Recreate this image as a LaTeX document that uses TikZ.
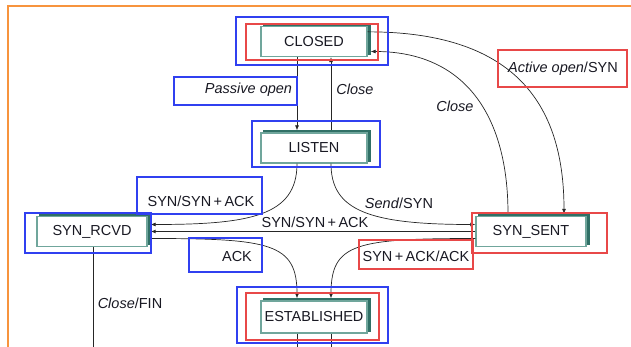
\documentclass[tikz,border=0pt]{standalone}
\usepackage{xcolor}
\usepackage{tikz}
\usepackage{fontspec}
\setmainfont{Liberation Sans}
\usetikzlibrary{shadows,arrows.meta}

\definecolor{framebd}{RGB}{247,148,62}
\definecolor{annblue}{RGB}{48,64,240}
\definecolor{annred}{RGB}{232,72,72}
\definecolor{statebd}{RGB}{112,166,156}
\definecolor{stateshd}{RGB}{48,112,102}
\definecolor{ink}{RGB}{25,25,35}

\begin{document}
\begin{tikzpicture}[x=1pt, y=-1pt,
  every node/.style={font=\fontsize{14.5}{17}\selectfont, text=ink, inner sep=0pt},
  state/.style={draw=statebd, line width=1.3pt, fill=white, minimum width=106pt, minimum height=30pt,
    copy shadow={shadow xshift=3pt, shadow yshift=2pt, draw=stateshd, fill=stateshd}},
  bluebox/.style={draw=annblue, line width=1.3pt},
  redbox/.style={draw=annred, line width=1.3pt},
  trans/.style={draw=black!85, line width=0.7pt, -{Latex[length=5pt,width=4pt]}},
  plain/.style={draw=black!85, line width=0.7pt}
]
\useasboundingbox (0,0) rectangle (631,347);
\draw[framebd, line width=1.5pt] (8,347) -- (8,6) -- (631,6);

% states
\node[state] (closed) at (314,41.5) {CLOSED};
\node[state] (listen) at (314,148) {LISTEN};
\node[state, minimum width=110pt] (synrcvd) at (92,231.5) {SYN\_RCVD};
\node[state, minimum width=110pt] (synsent) at (531,231.5) {SYN\_SENT};
\node[state, minimum height=32pt] (estab) at (314,317) {ESTABLISHED};

% transitions
\draw[trans] ([xshift=-17pt]closed.south) -- ([xshift=-17pt,yshift=2pt]listen.north);
\draw[trans] ([xshift=17pt,yshift=2pt]listen.north) -- ([xshift=17pt]closed.south);
\draw[trans] ([yshift=-6pt]closed.north east) .. controls +(143,0) and +(0,-114) .. ([xshift=33pt,yshift=2pt]synsent.north);
\draw[trans] ([xshift=-23pt,yshift=2pt]synsent.north) .. controls +(0,-100) and +(93,0) .. ([xshift=3pt,yshift=-10pt]closed.east);
\draw[trans] ([xshift=-17pt]listen.south) .. controls +(0,52) and +(100,0) .. ([xshift=3pt,yshift=7pt]synrcvd.east);
\draw[trans] ([xshift=17pt]listen.south) .. controls +(0,47) and +(-106,0) .. ([yshift=7pt]synsent.west);
\draw[trans, line width=1pt] (synsent.west) -- ([xshift=3pt]synrcvd.east);
\draw[trans] ([xshift=3pt,yshift=-7pt]synrcvd.east) .. controls +(120,0) and +(0,-55) .. ([xshift=-17pt,yshift=2pt]estab.north);
\draw[trans] ([yshift=-7pt]synsent.west) .. controls +(-120,0) and +(0,-55) .. ([xshift=17pt,yshift=2pt]estab.north);
\coordinate (finend) at (93,347);
\coordinate (estout1) at (297,347);
\coordinate (estout2) at (331,347);
\draw[plain] ([xshift=1pt]synrcvd.south) -- (finend);
\draw[plain] ([xshift=-17pt]estab.south) -- (estout1);
\draw[plain] ([xshift=17pt]estab.south) -- (estout2);

% labels
\node (passlbl) at (248.5,90) {\textit{Passive open}};
\node (closelbl) at (355,89) {\textit{Close}};
\node (activelbl) at (563,69) {\textit{Active open}/SYN};
\node (close2lbl) at (455,106) {\textit{Close}};
\node (synlbl) at (201,201) {SYN/SYN\,+\,ACK};
\node (syn2lbl) at (315,222) {SYN/SYN\,+\,ACK};
\node (sendlbl) at (399,203) {\textit{Send}/SYN};
\node (acklbl) at (237,257) {ACK};
\node (synacklbl) at (416,256) {SYN\,+\,ACK/ACK};
\node (finlbl) at (130,303) {\textit{Close}/FIN};

% marking boxes
\node[bluebox, minimum width=152pt, minimum height=48pt] (closedblue) at (312,41) {};
\node[redbox, minimum width=132pt, minimum height=36pt] (closedred) at (312,42) {};
\node[bluebox, minimum width=128pt, minimum height=46pt] (listenblue) at (316,144) {};
\node[bluebox, minimum width=126pt, minimum height=40pt] (rcvdblue) at (88,233) {};
\node[redbox, minimum width=135pt, minimum height=40pt] (sentred) at (539.5,233) {};
\node[bluebox, minimum width=151pt, minimum height=56pt] (estabblue) at (312.5,315) {};
\node[redbox, minimum width=133pt, minimum height=47pt] (estabred) at (312.5,316.5) {};
\node[bluebox, minimum width=123pt, minimum height=28pt] (passbox) at (235.5,91) {};
\node[redbox, minimum width=129pt, minimum height=37pt] (activebox) at (562.5,68.5) {};
\node[bluebox, minimum width=125pt, minimum height=37pt] (synbox) at (199.5,195.5) {};
\node[bluebox, minimum width=73pt, minimum height=34pt] (ackbox) at (225.5,255) {};
\node[redbox, minimum width=114pt, minimum height=29pt] (synackbox) at (416,254.5) {};
\end{tikzpicture}
\end{document}
